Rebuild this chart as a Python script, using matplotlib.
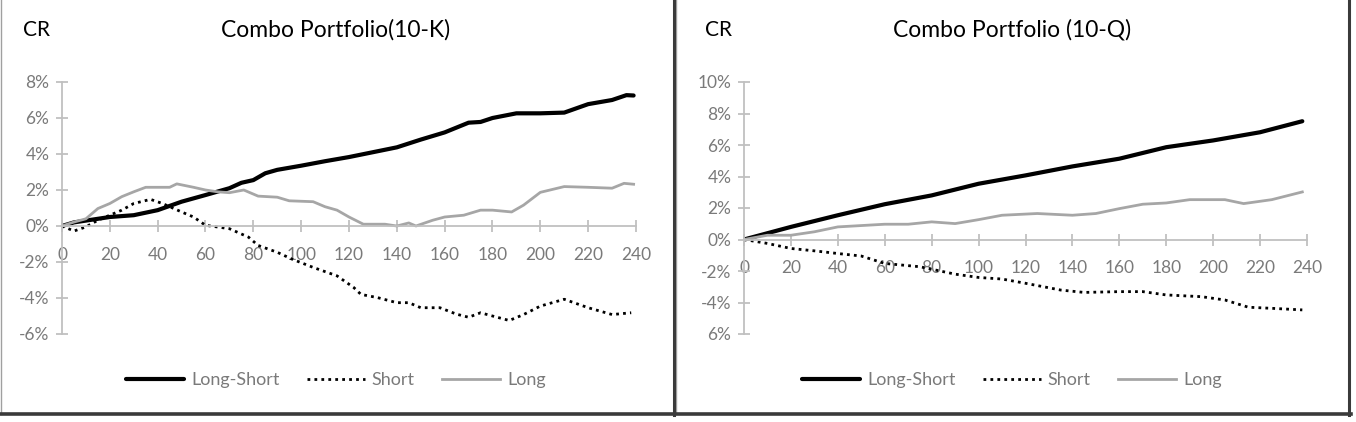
import matplotlib.pyplot as plt
from matplotlib.lines import Line2D

plt.rcParams['font.family'] = ['Lato', 'DejaVu Sans']

# ---- 10-K panel ----
k_ls_x = [0, 5, 10, 20, 30, 40, 50, 60, 70, 75, 80, 85, 90, 100, 110, 120, 130, 140, 150,
          160, 170, 175, 180, 190, 200, 210, 220, 230, 236, 239]
k_ls_y = [0, 0.2, 0.3, 0.5, 0.6, 0.88, 1.35, 1.72, 2.1, 2.4, 2.55, 2.93, 3.12, 3.35, 3.6,
          3.83, 4.1, 4.37, 4.8, 5.2, 5.74, 5.78, 6.0, 6.26, 6.26, 6.3, 6.77, 7.0, 7.27, 7.25]

k_s_x = [0, 5, 10, 15, 20, 25, 30, 37, 42, 50, 55, 60, 70, 78, 82, 90, 96, 105, 115, 122,
         125, 132, 140, 145, 150, 158, 165, 170, 175, 180, 187, 193, 200, 210, 220, 230, 238]
k_s_y = [0, -0.28, -0.05, 0.32, 0.6, 0.88, 1.25, 1.48, 1.25, 0.78, 0.5, 0.04, -0.15, -0.62,
         -1.08, -1.46, -1.83, -2.3, -2.77, -3.42, -3.8, -3.98, -4.26, -4.26, -4.54, -4.54,
         -4.9, -5.07, -4.82, -5.0, -5.25, -4.92, -4.45, -4.07, -4.54, -4.92, -4.82]

k_l_x = [0, 5, 10, 15, 20, 25, 30, 35, 40, 45, 48, 55, 60, 65, 70, 76, 82, 90, 95, 105, 110,
         115, 120, 126, 135, 140, 145, 148, 155, 160, 168, 175, 180, 188, 193, 200, 210, 220,
         230, 235, 239]
k_l_y = [0, 0.22, 0.4, 0.97, 1.25, 1.63, 1.9, 2.15, 2.15, 2.15, 2.34, 2.15, 2.0, 1.9, 1.85,
         2.0, 1.66, 1.6, 1.4, 1.35, 1.07, 0.88, 0.5, 0.1, 0.1, 0.0, 0.17, 0.0, 0.32, 0.5, 0.6,
         0.88, 0.88, 0.78, 1.16, 1.87, 2.19, 2.15, 2.1, 2.37, 2.32]

# ---- 10-Q panel ----
q_ls_x = [0, 20, 40, 60, 80, 100, 120, 140, 160, 180, 200, 220, 238]
q_ls_y = [0, 0.8, 1.54, 2.24, 2.8, 3.54, 4.07, 4.64, 5.13, 5.86, 6.29, 6.81, 7.51]

q_s_x = [0, 10, 20, 30, 40, 50, 60, 75, 90, 100, 110, 120, 135, 145, 160, 170, 180, 195,
         205, 215, 225, 238]
q_s_y = [0, -0.25, -0.57, -0.72, -0.89, -1.05, -1.52, -1.73, -2.2, -2.41, -2.51, -2.78,
         -3.21, -3.36, -3.31, -3.31, -3.52, -3.63, -3.84, -4.3, -4.37, -4.47]

q_l_x = [0, 10, 20, 30, 40, 60, 70, 80, 90, 100, 110, 125, 140, 150, 160, 170, 180, 190,
         205, 213, 225, 238]
q_l_y = [0, 0.27, 0.27, 0.49, 0.8, 0.97, 0.97, 1.12, 1.01, 1.26, 1.54, 1.65, 1.54, 1.65,
         1.96, 2.24, 2.32, 2.53, 2.53, 2.28, 2.53, 3.02]

k_ticks = [8, 6, 4, 2, 0, -2, -4, -6]
k_labels = ['8%', '6%', '4%', '2%', '0%', '-2%', '-4%', '-6%']
q_ticks = [10, 8, 6, 4, 2, 0, -2, -4, -6]
q_labels = ['10%', '8%', '6%', '4%', '2%', '0%', '-2%', '-4%', '6%']
x_ticks = list(range(0, 241, 20))

W, H = 1356, 422
fig = plt.figure(figsize=(W / 100, H / 100), dpi=100)

axis_col = '#c0c0c0'
lab_col = '#7a7a7a'


def panel(rect, lsx, lsy, sx, sy, lx, ly, yt, yl, title, cx):
    l, b, r, t = rect
    ax = fig.add_axes([l / W, 1 - b / H, (r - l) / W, (b - t) / H])
    ax.plot(lsx, lsy, color='black', lw=3.0, label='Long-Short', solid_capstyle='round')
    ax.plot(sx, sy, color='black', lw=2.0, ls=(0, (1, 1.5)), label='Short')
    ax.plot(lx, ly, color='#a6a6a6', lw=2.0, label='Long')
    ax.set_xlim(0, 240)
    ax.set_ylim(min(yt), max(yt))
    ax.set_yticks(yt)
    ax.set_yticklabels(yl)
    ax.set_xticks(x_ticks)
    for s in ['top', 'right']:
        ax.spines[s].set_visible(False)
    ax.spines['bottom'].set_position(('data', 0))
    for s in ['left', 'bottom']:
        ax.spines[s].set_color(axis_col)
        ax.spines[s].set_linewidth(1.3)
    ax.tick_params(axis='both', direction='inout', length=8, width=1.3, color=axis_col,
                   labelcolor=lab_col, labelsize=12.5)
    ax.tick_params(axis='x', pad=11)
    ax.tick_params(axis='y', pad=5)
    ax.patch.set_alpha(0)
    fig.text(cx / W, 1 - 30 / H, title, ha='center', va='center', fontsize=16.5, color='black')
    fig.text((l - 25) / W, 1 - 30 / H, 'CR', ha='center', va='center', fontsize=15, color='black')
    ax.legend(loc='center', bbox_to_anchor=((cx - l) / (r - l), (b - 380) / (b - t)),
              ncol=3, frameon=False, fontsize=13, labelcolor=lab_col, handlelength=3.2,
              columnspacing=1.5, handletextpad=0.4)
    return ax


panel((62, 334, 636, 82), k_ls_x, k_ls_y, k_s_x, k_s_y, k_l_x, k_l_y, k_ticks, k_labels,
      'Combo Portfolio(10-K)', 336)
panel((744, 334, 1307, 82), q_ls_x, q_ls_y, q_s_x, q_s_y, q_l_x, q_l_y, q_ticks, q_labels,
      'Combo Portfolio (10-Q)', 1012)


def fline(x0, y0, x1, y1, c, lw):
    fig.add_artist(Line2D([x0 / W, x1 / W], [1 - y0 / H, 1 - y1 / H], color=c, lw=lw))


# panel frames
fline(1, 0, 1, 414, '#a0a0a0', 1)
fline(676, 0, 676, 414, '#a0a0a0', 1)
fline(674, 0, 674, 415, '#3a3a3a', 2.2)
fline(1349, 0, 1349, 415, '#3a3a3a', 2.2)
fline(0, 414, 1351, 414, '#3a3a3a', 2.6)

fig.savefig('out.png', dpi=100)
